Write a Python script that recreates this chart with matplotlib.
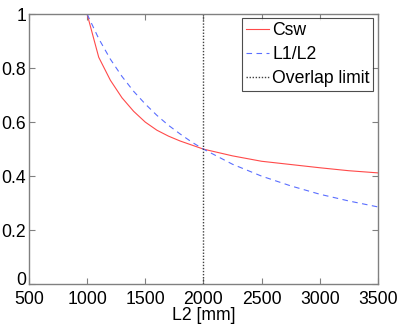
import matplotlib
matplotlib.use("Agg")
import matplotlib.pyplot as plt
import matplotlib.transforms as mtransforms

plt.rcParams['font.family'] = ['Liberation Sans', 'DejaVu Sans']

l2_csw = [1000, 1100, 1200, 1300, 1400, 1500, 1600, 1700, 1800, 1900, 2000,
          2250, 2500, 2750, 3000, 3250, 3500]
csw = [1.0, 0.84, 0.755, 0.69, 0.64, 0.60, 0.57, 0.548, 0.53, 0.515, 0.50,
       0.475, 0.455, 0.443, 0.431, 0.42, 0.412]
l2_ratio = [1000, 1100, 1200, 1300, 1400, 1500, 1600, 1700, 1800, 1900, 2000,
            2250, 2500, 2750, 3000, 3250, 3500]
ratio = [1.0, 0.909, 0.833, 0.769, 0.714, 0.667, 0.625, 0.588, 0.556, 0.526, 0.5,
         0.444, 0.4, 0.364, 0.333, 0.308, 0.286]
overlap_x = 2000
xticks = [500, 1000, 1500, 2000, 2500, 3000, 3500]
yticks = [0, 0.2, 0.4, 0.6, 0.8, 1]
ytick_labels = ['0', '0.2', '0.4', '0.6', '0.8', '1']

fig = plt.figure(figsize=(4.02, 3.27), dpi=100)
ax = fig.add_axes([0.072, 0.131, 0.868, 0.826])

ax.plot(l2_csw, csw, color='#ff4a4a', lw=0.8, label='Csw')
ax.plot(l2_ratio, ratio, color='#5a6eff', lw=0.8, ls=(0, (5, 4)), label='L1/L2')
ax.axvline(overlap_x, color='#404040', lw=1.0, ls=(0, (1, 1.2)), label='Overlap limit')

ax.set_xlim(500, 3500)
ax.set_ylim(0, 1)
ax.set_xticks(xticks)
ax.set_yticks(yticks)
ax.set_yticklabels(ytick_labels)
ax.tick_params(direction='in', length=4, width=0.8, colors='#808080',
               labelcolor='black', labelsize=12.7, top=True, right=True, pad=2)
ax.tick_params(axis='x', pad=5)
for s in ax.spines.values():
    s.set_color('#808080')
    s.set_linewidth(1.0)
ax.set_xlabel('L2 [mm]', fontsize=12.7, labelpad=-1)

# nudge the y "0" label up slightly so it does not collide with "500"
lbl0 = ax.get_yticklabels()[0]
lbl0.set_transform(lbl0.get_transform() +
                   mtransforms.ScaledTranslation(0, 4 / 72, fig.dpi_scale_trans))

leg = ax.legend(loc='upper right', fontsize=12.7, frameon=True, fancybox=False,
                borderpad=0.2, labelspacing=0.4, handlelength=1.3,
                handletextpad=0.2, borderaxespad=0.25)
leg.get_frame().set_edgecolor('#202020')
leg.get_frame().set_linewidth(0.8)

fig.savefig('out.png', dpi=100)
